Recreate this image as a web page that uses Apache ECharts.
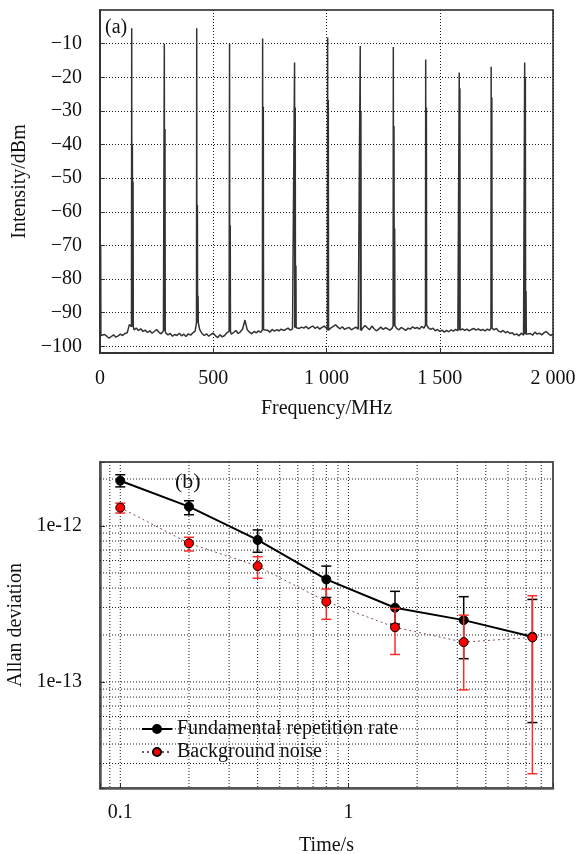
<!DOCTYPE html>
<html><head><meta charset="utf-8">
<script src="https://cdn.jsdelivr.net/npm/echarts@6/dist/echarts.min.js"></script>
<style>html,body{margin:0;padding:0;background:#fff}#c{width:578px;height:854px}</style>
</head><body><div id="c"></div>
<script>
// ---------- Panel (a): RF spectrum ----------
const noiseStep = 10; // MHz between noise samples, starting at 0 MHz
const noiseDbm = [
 -96.8,-97.2,-96.5,-97.0,-97.6,-97.1,-96.6,-97.3,-96.9,-96.4,
 -96.8,-96.2,-96.0,-93.5,-94.2,-95.1,-94.6,-95.3,-94.8,-95.6,
 -95.2,-95.9,-95.4,-96.1,-95.6,-95.0,-95.8,-96.3,-95.4,-96.0,
 -96.6,-96.2,-97.0,-96.5,-96.8,-96.1,-96.9,-96.4,-97.1,-96.3,
 -96.7,-96.0,-95.5,-93.0,-95.0,-96.2,-96.8,-96.3,-97.0,-96.5,
 -96.1,-96.9,-97.4,-96.6,-97.2,-96.8,-96.0,-95.6,-96.4,-95.9,
 -95.3,-96.2,-95.7,-94.8,-92.2,-95.1,-95.8,-96.3,-95.6,-96.0,
 -95.4,-95.9,-95.1,-95.6,-95.2,-95.8,-95.0,-95.5,-95.1,-95.4,
 -94.9,-95.3,-95.0,-94.6,-95.2,-94.8,-94.5,-95.0,-94.7,-94.3,
 -94.6,-94.1,-94.8,-94.3,-94.0,-94.7,-94.2,-94.9,-94.4,-94.0,
 -94.6,-95.2,-94.5,-94.1,-93.6,-94.3,-94.8,-94.2,-95.0,-94.6,
 -94.4,-95.1,-94.7,-94.3,-94.9,-95.3,-94.6,-93.8,-94.5,-95.1,
 -94.0,-94.8,-95.4,-94.9,-94.3,-95.0,-94.5,-94.8,-95.2,-94.6,
 -93.9,-94.7,-95.1,-94.4,-94.8,-95.3,-94.6,-94.9,-94.2,-94.7,
 -94.4,-94.9,-94.1,-94.6,-93.7,-94.5,-95.0,-94.6,-95.4,-95.0,
 -95.6,-95.2,-95.8,-95.3,-95.7,-95.1,-95.5,-95.0,-95.4,-95.2,
 -94.8,-95.3,-94.9,-95.4,-95.0,-94.7,-95.2,-94.8,-95.3,-95.0,
 -95.4,-94.9,-95.3,-94.6,-95.1,-94.7,-95.5,-95.8,-95.3,-96.0,
 -95.6,-96.2,-96.0,-96.6,-96.3,-96.9,-96.1,-96.7,-96.4,-96.8,
 -96.2,-96.7,-95.8,-96.4,-96.1,-96.6,-96.0,-95.6,-96.3,-96.8,-96.4
];
const peakFreq = [0, 140, 284, 427, 572, 718, 859, 1005, 1149, 1295, 1438, 1586, 1727, 1875];
const peakTop  = [-56, -5.4, -10, -5.4, -10, -8.5, -15.6, -8.2, -10.7, -11, -14.7, -18.6, -16.9, -15.6];
const peakMid  = [-70, -40, -35.4, -58, -64, -28.8, -29, -26.8, -30, -34.5, -29, -23.3, -26, -20];
const peakLow  = [null, -51, null, -85, null, null, -76, null, null, -65, null, null, null, -83.6];
const freqTickValues = [0, 500, 1000, 1500, 2000];
const freqTickLabels = ['0', '500', '1 000', '1 500', '2 000'];
const dbmTickValues = [-100, -90, -80, -70, -60, -50, -40, -30, -20, -10];

// ---------- Panel (b): Allan deviation ----------
const tau = [0.1, 0.2, 0.4, 0.8, 1.6, 3.2, 6.4];
const fundVal  = [1.95e-12, 1.33e-12, 8.13e-13, 4.54e-13, 2.99e-13, 2.49e-13, 1.95e-13];
const fundLow  = [1.78e-12, 1.18e-12, 6.78e-13, 3.48e-13, 2.35e-13, 1.41e-13, 5.49e-14];
const fundHigh = [2.13e-12, 1.45e-12, 9.43e-13, 5.53e-13, 3.81e-13, 3.52e-13, 3.38e-13];
const bgVal    = [1.31e-12, 7.74e-13, 5.53e-13, 3.27e-13, 2.24e-13, 1.80e-13, 1.93e-13];
const bgLow    = [1.21e-12, 6.91e-13, 4.62e-13, 2.52e-13, 1.50e-13, 8.89e-14, 2.58e-14];
const bgHigh   = [1.40e-12, 8.46e-13, 6.35e-13, 3.94e-13, 2.96e-13, 2.68e-13, 3.57e-13];
const tauGridValues = [0.09, 0.1, 0.2, 0.3, 0.4, 0.5, 0.6, 0.7, 0.8, 0.9, 1, 2, 3, 4, 5, 6, 7];
const adevGridValues = [3e-14, 4e-14, 5e-14, 6e-14, 7e-14, 8e-14, 9e-14, 1e-13,
  2e-13, 3e-13, 4e-13, 5e-13, 6e-13, 7e-13, 8e-13, 9e-13, 1e-12, 2e-12];
const tauTickValues = [0.1, 1];
const tauTickLabels = ['0.1', '1'];
const adevTickValues = [1e-13, 1e-12];
const adevTickLabels = ['1e-13', '1e-12'];

const seriesNames = ['Fundamental repetition rate', 'Background noise'];

// ---------- build ----------
const FONT = "'Liberation Serif','Times New Roman',serif";
const TXT = '#111';

function baseAt(f) {
  const i = Math.max(0, Math.min(noiseDbm.length - 1, Math.round(f / noiseStep)));
  return noiseDbm[i];
}
const spec = noiseDbm.map((v, i) => [i * noiseStep, v]);
peakFreq.forEach((f, k) => {
  const b = baseAt(f);
  spec.push([f - 1, b], [f, peakTop[k]], [f + 1, b]);
  if (peakMid[k] != null) spec.push([f + 1.5, b], [f + 3, peakMid[k]], [f + 4, b]);
  if (peakLow[k] != null) spec.push([f + 4.5, b], [f + 6, peakLow[k]], [f + 7, b]);
});
spec.sort((a, b) => a[0] - b[0]);

function logLabel(vals, labels) {
  return v => {
    for (let i = 0; i < vals.length; i++) {
      if (Math.abs(Math.log10(v) - Math.log10(vals[i])) < 1e-6) return labels[i];
    }
    return '';
  };
}

function errSeries(lows, highs, color, z) {
  return {
    type: 'custom', xAxisIndex: 1, yAxisIndex: 1, z: z, silent: true,
    data: tau.map((t, i) => [t, lows[i], highs[i]]),
    encode: { x: 0, y: [1, 2] },
    renderItem: function (params, api) {
      const x = api.value(0);
      const lo = api.coord([x, api.value(1)]);
      const hi = api.coord([x, api.value(2)]);
      const w = 5;
      const st = { stroke: color, lineWidth: 1.5 };
      return {
        type: 'group', children: [
          { type: 'line', shape: { x1: lo[0], y1: lo[1], x2: hi[0], y2: hi[1] }, style: st },
          { type: 'line', shape: { x1: lo[0] - w, y1: lo[1], x2: lo[0] + w, y2: lo[1] }, style: st },
          { type: 'line', shape: { x1: hi[0] - w, y1: hi[1], x2: hi[0] + w, y2: hi[1] }, style: st }
        ]
      };
    }
  };
}

const GRID_COLOR = '#1a1a1a';
const GRID_DASH = [1, 2];
const gridLineStyle = { color: GRID_COLOR, width: 1, type: GRID_DASH };

// grid lines of panel (b), placed through the log axes
function gridSeries(values, vertical) {
  return {
    type: 'custom', xAxisIndex: 1, yAxisIndex: 1, z: 1, silent: true,
    data: values.map(v => vertical ? [v, 1e-13] : [1, v]),
    encode: { x: 0, y: 1 },
    renderItem: function (params, api) {
      const cs = params.coordSys;
      const p = api.coord([api.value(0), api.value(1)]);
      const shape = vertical
        ? { x1: p[0], y1: cs.y, x2: p[0], y2: cs.y + cs.height }
        : { x1: cs.x, y1: p[1], x2: cs.x + cs.width, y2: p[1] };
      return { type: 'line', shape: shape, style: { stroke: GRID_COLOR, lineWidth: 1, lineDash: GRID_DASH } };
    }
  };
}

const option = {
  backgroundColor: '#fff',
  animation: false,
  textStyle: { fontFamily: FONT, color: TXT },
  grid: [
    { left: 100, top: 10, width: 453, height: 343, show: true, borderColor: '#222', borderWidth: 1.5, outerBoundsMode: 'none', containLabel: false },
    { left: 100, top: 462, width: 453, height: 326, show: true, borderColor: '#555', borderWidth: 2, outerBoundsMode: 'none', containLabel: false }
  ],
  graphic: [
    { type: 'text', left: 105, top: 18, style: { text: '(a)', font: "20px 'Liberation Serif'", fill: TXT } },
    { type: 'text', left: 175, top: 471, style: { text: '(b)', font: "22px 'Liberation Serif'", fill: TXT } }
  ],
  legend: {
    orient: 'vertical', left: 141, top: 719, padding: 0, itemGap: 3,
    itemWidth: 30, itemHeight: 10,
    data: seriesNames,
    textStyle: { fontFamily: FONT, fontSize: 20, color: TXT, lineHeight: 20 }
  },
  xAxis: [
    {
      gridIndex: 0, type: 'value', min: 0, max: 2000, interval: 500,
      name: 'Frequency/MHz', nameLocation: 'middle', nameGap: 46,
      nameTextStyle: { fontFamily: FONT, fontSize: 20, color: TXT },
      axisLine: { show: true, onZero: false, lineStyle: { color: '#333', width: 2 } },
      axisTick: { show: true, inside: true, length: 5, lineStyle: { color: '#333' } },
      axisLabel: { margin: 16, fontFamily: FONT, fontSize: 20, color: TXT,
        formatter: v => { const i = freqTickValues.indexOf(v); return i >= 0 ? freqTickLabels[i] : ''; } },
      splitLine: { show: true, lineStyle: gridLineStyle }
    },
    {
      gridIndex: 1, type: 'log', logBase: 10, min: 0.0815, max: 7.88,
      name: 'Time/s', nameLocation: 'middle', nameGap: 48,
      nameTextStyle: { fontFamily: FONT, fontSize: 20, color: TXT },
      axisLine: { show: true, onZero: false, lineStyle: { color: '#555', width: 2.5 } },
      axisTick: { show: true, inside: true, length: 5, lineStyle: { color: '#333' } },
      axisLabel: { margin: 15, fontFamily: FONT, fontSize: 20, color: TXT, formatter: logLabel(tauTickValues, tauTickLabels) },
      splitLine: { show: false }
    }
  ],
  yAxis: [
    {
      gridIndex: 0, type: 'value', min: -102, max: 0,
      name: 'Intensity/dBm', nameLocation: 'middle', nameGap: 68,
      nameTextStyle: { fontFamily: FONT, fontSize: 20, color: TXT },
      axisLine: { show: true, onZero: false, lineStyle: { color: '#333', width: 2 } },
      axisTick: { show: true, inside: true, length: 5, customValues: dbmTickValues, lineStyle: { color: '#333' } },
      axisLabel: { margin: 18, fontFamily: FONT, fontSize: 20, color: TXT, customValues: dbmTickValues,
        formatter: v => '\u2212' + Math.abs(v) },
      splitLine: { show: true, lineStyle: gridLineStyle }
    },
    {
      gridIndex: 1, type: 'log', logBase: 10, min: 2.09e-14, max: 2.57e-12,
      name: 'Allan deviation', nameLocation: 'middle', nameGap: 69,
      nameTextStyle: { fontFamily: FONT, fontSize: 20, color: TXT },
      axisLine: { show: true, onZero: false, lineStyle: { color: '#555', width: 2.5 } },
      axisTick: { show: true, inside: true, length: 5, lineStyle: { color: '#333' } },
      axisLabel: { margin: 18, fontFamily: FONT, fontSize: 20, color: TXT, formatter: logLabel(adevTickValues, adevTickLabels) },
      splitLine: { show: false }
    }
  ],
  series: [
    {
      type: 'line', xAxisIndex: 0, yAxisIndex: 0, data: spec, symbol: 'none',
      lineStyle: { color: '#333', width: 1.5 }, z: 3
    },
    gridSeries(tauGridValues, true),
    gridSeries(adevGridValues, false),
    errSeries(fundLow, fundHigh, '#000', 4),
    {
      name: seriesNames[0], type: 'line', xAxisIndex: 1, yAxisIndex: 1, z: 5,
      data: tau.map((t, i) => [t, fundVal[i]]),
      symbol: 'circle', symbolSize: 9,
      itemStyle: { color: '#000', borderColor: '#000', borderWidth: 1 },
      lineStyle: { color: '#000', width: 2 }
    },
    errSeries(bgLow, bgHigh, '#ff2a2a', 6),
    {
      name: seriesNames[1], type: 'line', xAxisIndex: 1, yAxisIndex: 1, z: 7,
      data: tau.map((t, i) => [t, bgVal[i]]),
      symbol: 'circle', symbolSize: 9,
      itemStyle: { color: '#ff0000', borderColor: '#000', borderWidth: 1 },
      lineStyle: { color: '#7a4f5f', width: 1, type: [2, 3] }
    }
  ]
};

const chart = echarts.init(document.getElementById('c'), null, { renderer: 'canvas' });
chart.setOption(option);
</script>
</body></html>
